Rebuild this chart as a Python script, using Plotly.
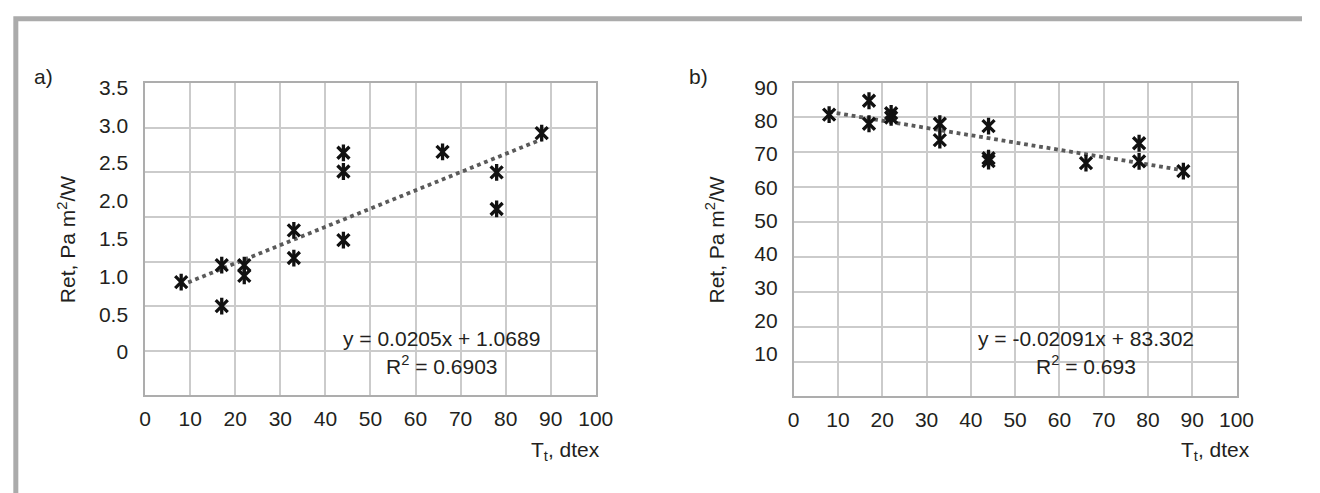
import numpy as np
import plotly.graph_objects as go

W, H = 1320, 493

# ---------------- data ----------------
# a) Ret (Pa m2/W) vs linear density Tt (dtex)
tt_a = [8, 17, 17, 22, 22, 33, 33, 44, 44, 44, 66, 78, 78, 88]
ret_a = [1.27, 1.46, 1.00, 1.46, 1.34, 1.85, 1.54, 2.72, 2.51, 1.74, 2.73, 2.50, 2.09, 2.94]
# b)
tt_b = [8, 17, 17, 22, 22, 33, 33, 44, 44, 44, 66, 78, 78, 88]
ret_b = [80.8, 84.8, 78.2, 81.2, 80.0, 78.2, 73.5, 77.5, 68.3, 67.5, 66.9, 72.6, 67.4, 64.6]

x_ticks = [0, 10, 20, 30, 40, 50, 60, 70, 80, 90, 100]
y_grid_a = [0, 0.5, 1.0, 1.5, 2.0, 2.5, 3.0, 3.5]
y_labels_a = ["0", "0.5", "1.0", "1.5", "2.0", "2.5", "3.0", "3.5"]
y_grid_b = [0, 10, 20, 30, 40, 50, 60, 70, 80, 90]
y_labels_b_vals = [10, 20, 30, 40, 50, 60, 70, 80, 90]
y_labels_b = ["10", "20", "30", "40", "50", "60", "70", "80", "90"]

eq_a = ["y = 0.0205x + 1.0689", "R<sup>2</sup> = 0.6903"]
eq_b = ["y = -0.02091x + 83.302", "R<sup>2</sup> = 0.693"]
panel_labels = ["a)", "b)"]
y_title = "Ret, Pa m<sup>2</sup>/W"
x_title = "T<sub>t</sub>, dtex"

# ---------------- styles ----------------
FONT = "Liberation Sans, Arial, sans-serif"
TXT = "#231f20"
GRID = "#cbcbcb"
FRAME = "#adadad"
TREND = "#5a5a5a"
MARK = "#111111"
FS = 21


def px_x(p):
    return p / W


def px_y(p):
    return (H - p) / H


fig = go.Figure()


def add_panel(xs, ys, xref, yref, yref_labels):
    # trend line (least squares fit, as in the original)
    k, b = np.polyfit(xs, ys, 1)
    xl = np.array([min(xs), max(xs)])
    fig.add_trace(go.Scatter(x=xl, y=k * xl + b, mode="lines",
                             line=dict(color=TREND, width=3.8, dash="dot"),
                             xaxis=xref, yaxis=yref, showlegend=False, hoverinfo="skip"))
    # star markers: x + vertical bar
    for sym in ("x-thin-open", "line-ns-open"):
        fig.add_trace(go.Scatter(x=xs, y=ys, mode="markers",
                                 marker=dict(symbol=sym, size=12, color=MARK,
                                             line=dict(color=MARK, width=3.3)),
                                 xaxis=xref, yaxis=yref, showlegend=False))
    # empty trace so the label axis is drawn
    fig.add_trace(go.Scatter(x=[], y=[], mode="markers", xaxis=xref, yaxis=yref_labels,
                             showlegend=False, hoverinfo="skip"))


add_panel(tt_a, ret_a, "x", "y", "y2")
add_panel(tt_b, ret_b, "x2", "y3", "y4")

axis_common = dict(showgrid=True, gridcolor=GRID, gridwidth=1.5, zeroline=False,
                   showline=True, linecolor=FRAME, linewidth=1.5, mirror=True, ticks="")
tick_font = dict(family=FONT, size=FS, color=TXT)

dom_x_a = [px_x(141.7), px_x(600.7)]
dom_y_a = [px_y(394), px_y(77.3)]
dom_x_b = [px_x(802.3), px_x(1253.3)]
dom_y_b = [px_y(395), px_y(76.7)]

fig.update_layout(
    width=W, height=H, autosize=False,
    margin=dict(l=0, r=0, t=0, b=0),
    paper_bgcolor="white", plot_bgcolor="white",
    font=dict(family=FONT, size=FS, color=TXT),
    showlegend=False,
    xaxis=dict(domain=dom_x_a, range=[0, 100], tickvals=x_ticks, anchor="y",
               tickfont=tick_font, ticklabelstandoff=4, **axis_common),
    yaxis=dict(domain=dom_y_a, range=[0, 3.5], tickvals=y_grid_a, anchor="x",
               showticklabels=False, **axis_common),
    yaxis2=dict(overlaying="y", anchor="x", side="left",
                range=[-0.574, 3.557], tickvals=y_grid_a, ticktext=y_labels_a,
                showgrid=False, zeroline=False, showline=False, ticks="",
                tickfont=tick_font, ticklabelstandoff=16),
    xaxis2=dict(domain=dom_x_b, range=[0, 100], tickvals=x_ticks, anchor="y3",
                tickfont=tick_font, ticklabelstandoff=4, **axis_common),
    yaxis3=dict(domain=dom_y_b, range=[0, 90], tickvals=y_grid_b, anchor="x2",
                showticklabels=False, **axis_common),
    yaxis4=dict(overlaying="y3", anchor="x2", side="left",
                range=[-2.83, 91.48], tickvals=y_labels_b_vals, ticktext=y_labels_b,
                showgrid=False, zeroline=False, showline=False, ticks="",
                tickfont=tick_font, ticklabelstandoff=15),
)

ann = []
# panel letters
ann.append(dict(x=px_x(38.5), y=px_y(70.5), text=panel_labels[0]))
ann.append(dict(x=px_x(705.5), y=px_y(70), text=panel_labels[1]))
# axis titles
ann.append(dict(x=px_x(62), y=px_y(235.6), text=y_title, textangle=-90))
ann.append(dict(x=px_x(722), y=px_y(236), text=y_title, textangle=-90))
ann.append(dict(x=px_x(570), y=px_y(450), text=x_title))
ann.append(dict(x=px_x(1232), y=px_y(450), text=x_title))
# equations
ann.append(dict(x=px_x(444), y=px_y(336.7), text=eq_a[0]))
ann.append(dict(x=px_x(444), y=px_y(363), text=eq_a[1]))
ann.append(dict(x=px_x(1100), y=px_y(336.7), text=eq_b[0]))
ann.append(dict(x=px_x(1100), y=px_y(363), text=eq_b[1]))
for a in ann:
    a.update(xref="paper", yref="paper", xanchor="center", yanchor="middle",
             showarrow=False, font=dict(family=FONT, size=FS, color=TXT))
fig.update_layout(annotations=ann)

# gray frame (left and top edges)
fig.add_shape(type="path", xref="paper", yref="paper",
              path=f"M {px_x(10)},0 L {px_x(10)},{px_y(12)} L 1,{px_y(12)}",
              line=dict(color="#ababab", width=5))

fig.write_html("out.html", config={"responsive": False},
               post_script="document.documentElement.style.margin='0';"
                           "document.documentElement.style.overflow='hidden';"
                           "document.body.style.margin='0';"
                           "document.body.style.overflow='hidden';")
